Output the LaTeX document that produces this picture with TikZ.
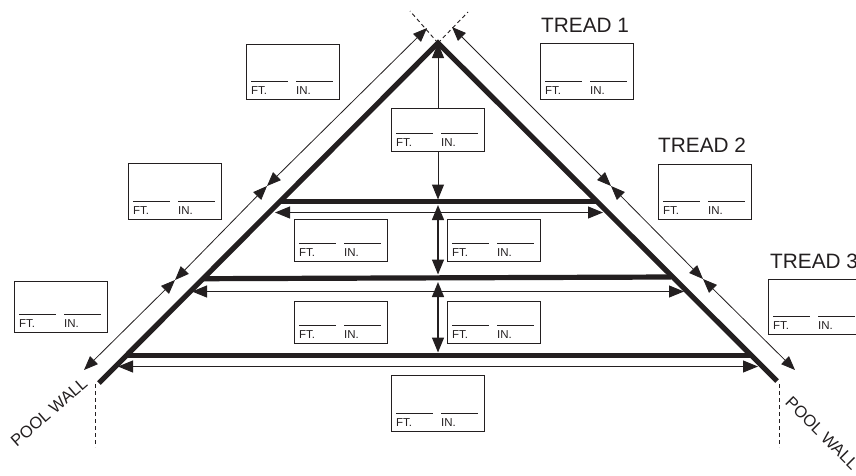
\documentclass[tikz,border=0pt]{standalone}
\usepackage{fontspec}
\setmainfont{Liberation Sans}
\usetikzlibrary{arrows.meta,calc}
\definecolor{ink}{HTML}{231F20}
\tikzset{
  wall/.style={draw=ink,line width=5.2pt},
  dim/.style={draw=ink,line width=1pt,{Triangle[length=15pt,width=12pt]}-{Triangle[length=15pt,width=12pt]}},
  dimdiag/.style={draw=ink,line width=0.8pt,{Triangle[length=14pt,width=11pt]}-{Triangle[length=14pt,width=11pt]}},
  dimv/.style={draw=ink,line width=1.3pt,{Triangle[length=15pt,width=12pt]}-{Triangle[length=15pt,width=12pt]}},
  dimup/.style={draw=ink,line width=1pt,-{Triangle[length=15pt,width=12pt]}},
  guide/.style={draw=ink,line width=0.9pt,dash pattern=on 4pt off 3pt},
  lab/.style={font=\fontsize{20.8}{22}\selectfont,text=ink,inner sep=0pt,anchor=base west},
  pool/.style={font=\fontsize{16.5}{18}\selectfont,text=ink,inner sep=0pt},
  unit/.style={font=\fontsize{11.5}{12}\selectfont,text=ink,inner sep=0pt,anchor=base west}
}
\newcommand{\fbx}[5]{% name, x1,y1,x2,y2 : box with FT./IN. blanks
  \draw[ink,line width=1pt] (#2,#3) rectangle (#4,#5);
  \coordinate (#1) at (#2,#5);
  \draw[ink,line width=0.6pt] ($(#1)+(5,-18)$) -- ++(36.5,0) ($(#1)+(50,-18)$) -- ++(36.5,0);
  \node[unit] (#1f) at ($(#1)+(5,-5)$) {FT.};
  \node[unit] (#1i) at ($(#1)+(50,-5)$) {IN.};
}
\begin{document}
\begin{tikzpicture}[x=1pt,y=-1pt]
\useasboundingbox (0,0) rectangle (856,475);
\coordinate (apex) at (438,43);
\coordinate (wl) at (99,383);
\coordinate (wr) at (777,381);
\coordinate (xl) at (410,11);
\coordinate (xr) at (468,12);
\coordinate (gl0) at (95,384);
\coordinate (gl) at (95,447);
\coordinate (gr0) at (779,384);
\coordinate (gr) at (779,447);
% guides
\draw[guide] (apex) -- (xl);
\draw[guide] (apex) -- (xr);
\draw[guide] (gl0) -- (gl);
\draw[guide] (gr0) -- (gr);
% walls and treads
\draw[wall,line join=miter] (wl) -- (apex) -- (wr);
\draw[wall] (280,201.5) -- (596,201.5);
\draw[wall] (203,278.7) -- (671,277);
\draw[wall] (126,355.5) -- (751,355.5);
% boxes
\fbx{b1}{246}{44}{339}{99}
\fbx{b2}{128}{163}{221}{219}
\fbx{b3}{14}{281}{107}{332}
\fbx{c}{391}{108}{484}{151}
\fbx{r1}{540}{43}{633}{99}
\fbx{r2}{658}{164}{751}{219}
\fbx{r3}{768}{279}{861}{334}
\fbx{m1}{294}{219}{387}{261}
\fbx{m2}{447}{219}{540}{261}
\fbx{m3}{294}{301}{387}{343}
\fbx{m4}{447}{301}{540}{343}
\fbx{bt}{391}{375}{484}{431}
% vertical dimensions
\coordinate (ca) at (438,108);
\coordinate (cb) at (438,151);
\draw[dimup] (ca) -- (438,43);
\draw[dimup] (cb) -- (438,199.5);
\draw[dimv] (438,205) -- (438,274.5);
\draw[dimv] (438,282) -- (438,352.5);
% horizontal dimensions
\draw[dim] (275,212.5) -- (603,212.5);
\draw[dim] (192,291.5) -- (684,291.5);
\draw[dim] (118,366.5) -- (758,366.5);
% wall dimensions
\draw[dimdiag] (84,370) -- (175,280);
\draw[dimdiag] (175,280) -- (267,186);
\draw[dimdiag] (267,186) -- (427,28);
\draw[dimdiag] (452,27) -- (611,186);
\draw[dimdiag] (611,186) -- (703,279);
\draw[dimdiag] (703,279) -- (795,370);
% labels
\node[lab] (tr1) at (541,32) {TREAD 1};
\node[lab] (tr2) at (658,152) {TREAD 2};
\node[lab] (tr3) at (770,268) {TREAD 3};
\node[pool,rotate=41] (pl) at (49,412) {POOL WALL};
\node[pool,rotate=-45] (pr) at (822,433) {POOL WALL};
\end{tikzpicture}
\end{document}
